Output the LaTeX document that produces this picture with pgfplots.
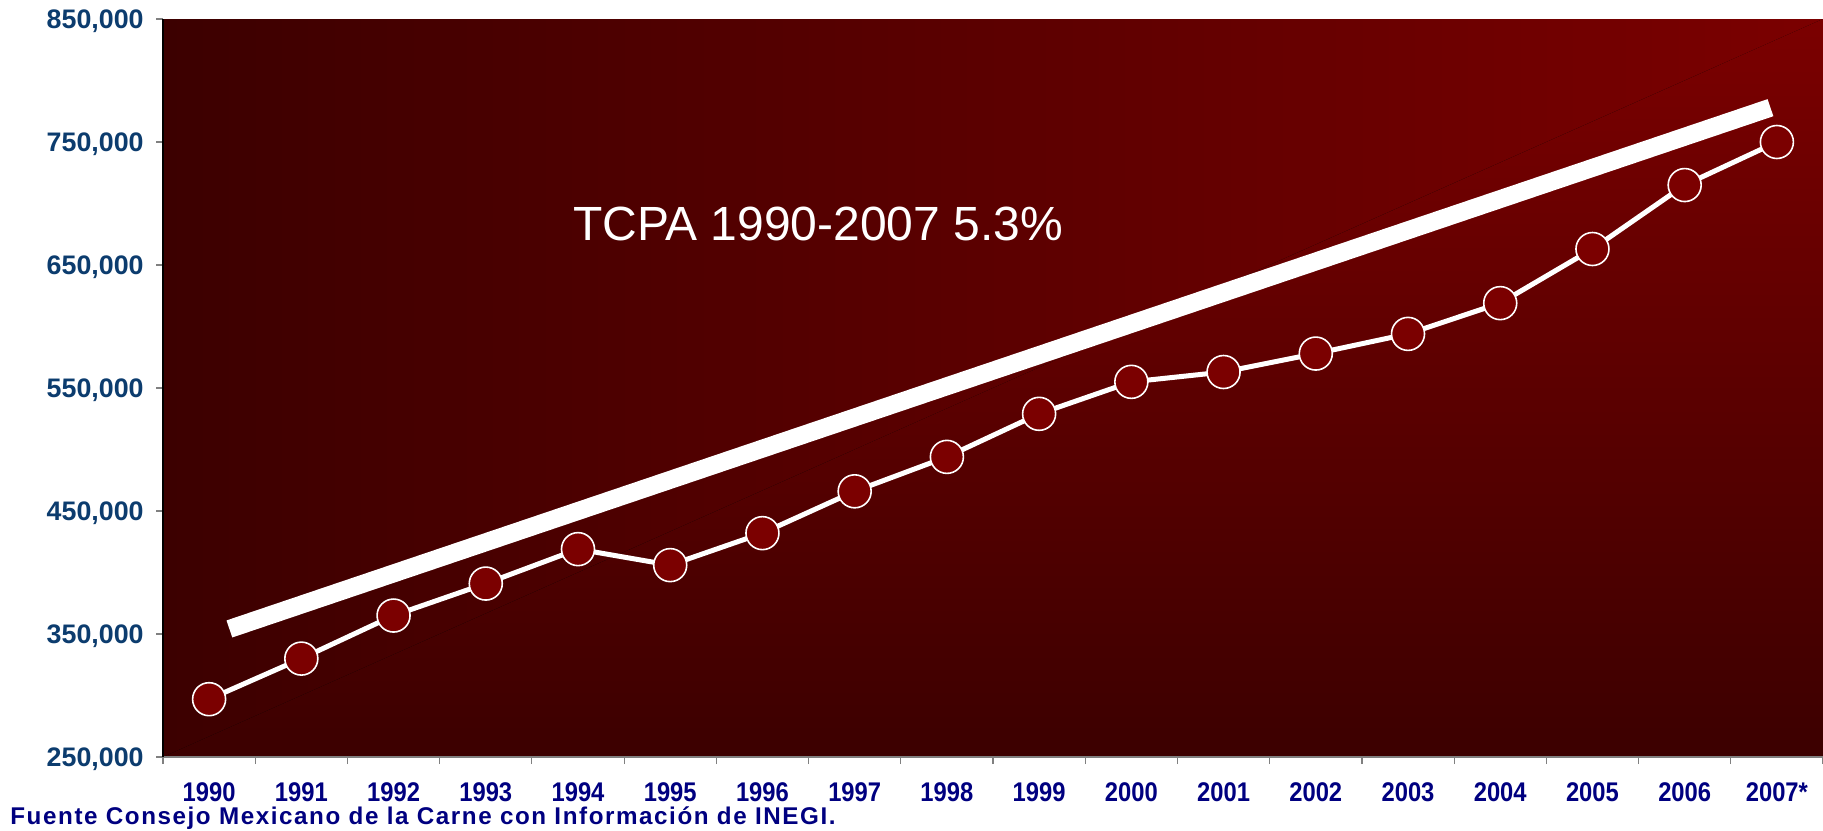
\documentclass[border=0pt]{standalone}
\usepackage{pgfplots}
\pgfplotsset{compat=1.18}
\usepackage{fontspec}
\setmainfont{Liberation Sans}
\newfontfamily\narrowfont[FakeStretch=0.88]{Liberation Sans}
\newfontfamily\spacedfont[LetterSpace=6.5]{Liberation Sans}
\definecolor{ylab}{RGB}{12,60,110}
\definecolor{xlab}{RGB}{0,0,128}
\definecolor{bgdark}{RGB}{60,0,0}
\definecolor{bgbright}{RGB}{123,0,0}
\definecolor{mk}{RGB}{123,0,0}
\pgfplotstableread{
x y
0 297000
1 330000
2 365000
3 391000
4 419000
5 406000
6 432000
7 466000
8 494000
9 529000
10 555000
11 563000
12 578000
13 594000
14 619000
15 663000
16 715000
17 750000
}\datatable
\begin{document}
\begin{tikzpicture}
\begin{axis}[
  at={(81.5pt,36.5pt)}, anchor=south west,
  width=830pt, height=369pt, scale only axis,
  xmin=-0.5, xmax=17.5, ymin=250000, ymax=850000,
  ytick={250000,350000,450000,550000,650000,750000,850000},
  xtick={0,...,17},
  xticklabels={1990,1991,1992,1993,1994,1995,1996,1997,1998,1999,2000,2001,2002,2003,2004,2005,2006,2007*},
  minor xtick={-0.5,0.5,...,17.5},
  major x tick style={draw=none},
  minor x tick style={draw=gray, line width=0.6pt},
  ytick style={draw=gray, line width=0.6pt},
  major tick length=3.5pt, minor tick length=3.5pt,
  tick align=outside,
  axis x line*=bottom, axis y line*=left,
  x axis line style={draw=gray, line width=0.6pt, -},
  y axis line style={draw=black, line width=0.6pt, -},
  axis on top,
  scaled y ticks=false,
  /pgf/number format/.cd, fixed, 1000 sep={,}, assume math mode=true,
  /pgfplots/.cd,
  yticklabel style={font=\bfseries\fontsize{13.4}{15}\selectfont, color=ylab, anchor=east, inner sep=0pt, xshift=-6pt, yshift=-1pt},
  xticklabel style={font=\narrowfont\bfseries\fontsize{13.5}{15}\selectfont, color=xlab, anchor=base, inner sep=0pt, yshift=-18.5pt},
]
\fill[left color=bgdark, right color=bgbright] (rel axis cs:0,0) rectangle (rel axis cs:1,1);
\fill[bottom color=bgdark, top color=bgbright] (rel axis cs:0,0) -- (rel axis cs:1,0) -- (rel axis cs:1,1) -- cycle;
\addplot[white, line width=9pt, line cap=butt] coordinates {(0.22,354100) (16.93,777900)};
\addplot[white, line width=2.5pt, mark=*, mark size=8.25pt, mark options={fill=mk, draw=white, line width=0.8pt}] table[x=x, y=y] {\datatable};
\node[white, font=\fontsize{24}{28}\selectfont] at (rel axis cs:0.3946,0.722) {TCPA 1990-2007 5.3\%};
\end{axis}
\node[anchor=base west, inner sep=0pt, color=xlab, font=\spacedfont\bfseries\fontsize{12.1}{14}\selectfont] at (5pt,3pt) {Fuente Consejo Mexicano de la Carne con Información de INEGI.};
\pgfresetboundingbox
\path[use as bounding box] (0,0) rectangle (911.5pt,415pt);
\end{tikzpicture}
\end{document}
